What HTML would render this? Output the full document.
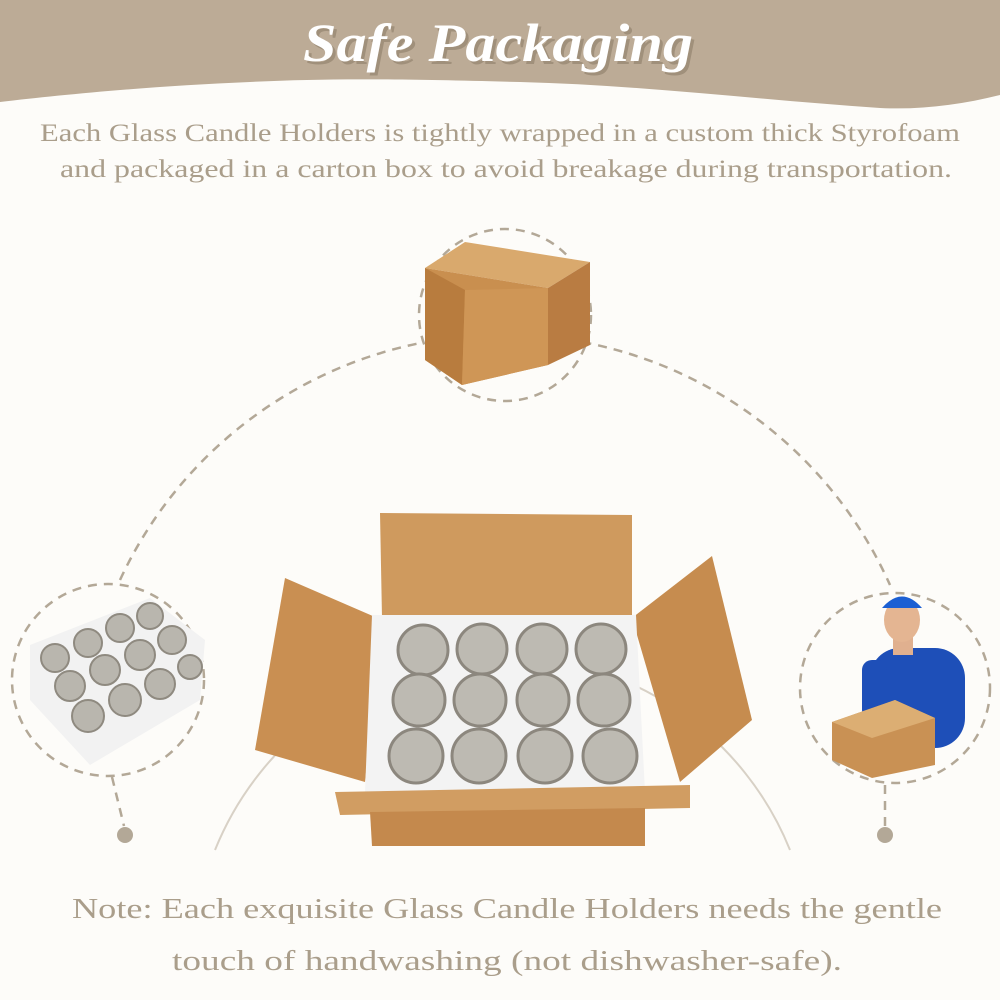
<!DOCTYPE html>
<html><head><meta charset="utf-8"><style>
html,body{margin:0;padding:0;background:#fdfcf9;}
svg{display:block}
</style></head><body>
<svg width="1000" height="1000" viewBox="0 0 1000 1000" xmlns="http://www.w3.org/2000/svg">
<rect width="1000" height="1000" fill="#fdfcf9"/>
<path d="M0 0 H1000 V95 C960 105 920 110 880 108 C760 100 640 85 520 82 C400 79 330 78 250 82 C150 86 60 95 0 102 Z" fill="#bcab96"/>
<text x="501" y="64" text-anchor="middle" font-family="Liberation Serif, serif" font-style="italic" font-weight="bold" font-size="54" fill="#8f7f6a" opacity="0.6" textLength="390" lengthAdjust="spacingAndGlyphs">Safe Packaging</text>
<text x="498" y="61" text-anchor="middle" font-family="Liberation Serif, serif" font-style="italic" font-weight="bold" font-size="54" fill="#fff" textLength="390" lengthAdjust="spacingAndGlyphs">Safe Packaging</text>
<g font-family="Liberation Serif, serif" font-size="25" fill="#aa9e8b">
<text x="40" y="141" textLength="920" lengthAdjust="spacingAndGlyphs">Each Glass Candle Holders is tightly wrapped in a custom thick Styrofoam</text>
<text x="60" y="177" textLength="892" lengthAdjust="spacingAndGlyphs">and packaged in a carton box to avoid breakage during transportation.</text>
<text x="72" y="918" font-size="28" textLength="870" lengthAdjust="spacingAndGlyphs">Note: Each exquisite Glass Candle Holders needs the gentle</text>
<text x="172" y="970" font-size="28" textLength="670" lengthAdjust="spacingAndGlyphs">touch of handwashing (not dishwasher-safe).</text>
</g>
<g fill="none" stroke="#b3a897" stroke-width="2.5" stroke-dasharray="9 7">
<path d="M120 580 A423 423 0 0 1 890 585"/>
<path d="M112 777 L124 826"/>
<path d="M885 785 L885 826"/>
</g>
<path d="M215 850 A310 310 0 0 1 790 850" fill="none" stroke="#d8d1c6" stroke-width="2"/>
<circle cx="125" cy="835" r="8" fill="#b3a897"/>
<circle cx="885" cy="835" r="8" fill="#b3a897"/>
<g stroke="#b3a897" stroke-width="2.5" stroke-dasharray="9 7">
<circle cx="505" cy="315" r="86" fill="#fdfcf9"/>
<circle cx="108" cy="680" r="96" fill="#fdfcf9"/>
<circle cx="895" cy="688" r="95" fill="#fdfcf9"/>
</g>
<polygon points="425,268 465,242 590,262 548,288" fill="#d9a96d"/>
<polygon points="425,268 548,288 548,365 462,385 425,360" fill="#c98f4f"/>
<polygon points="425,268 465,290 462,385 425,360" fill="#b87c3e"/>
<polygon points="548,288 590,262 590,345 548,365" fill="#b97c42"/>
<polygon points="465,290 548,288 548,365 462,385" fill="#cf9656"/>
<polygon points="30,645 150,598 205,640 200,700 90,765 30,700" fill="#f2f2f2"/>
<g fill="#b9b6ae" stroke="#8f8a80" stroke-width="2">
<circle cx="55" cy="658" r="14"/><circle cx="88" cy="643" r="14"/><circle cx="120" cy="628" r="14"/><circle cx="150" cy="616" r="13"/>
<circle cx="70" cy="686" r="15"/><circle cx="105" cy="670" r="15"/><circle cx="140" cy="655" r="15"/><circle cx="172" cy="640" r="14"/>
<circle cx="88" cy="716" r="16"/><circle cx="125" cy="700" r="16"/><circle cx="160" cy="684" r="15"/><circle cx="190" cy="667" r="12"/>
</g>
<rect x="870" y="648" width="95" height="100" rx="30" fill="#1e4fb8"/>
<rect x="893" y="630" width="20" height="25" fill="#e0b08f"/>
<ellipse cx="902" cy="620" rx="18" ry="22" fill="#e4b592"/>
<path d="M882 608 Q902 585 922 608 Z" fill="#1b5fd3"/>
<rect x="862" y="660" width="25" height="60" rx="10" fill="#1e4fb8"/>
<polygon points="832,722 895,700 935,718 935,765 872,778 832,760" fill="#c99154"/>
<polygon points="832,722 895,700 935,718 872,738" fill="#dcae73"/>
<polygon points="380,513 632,515 632,618 382,618" fill="#cf9a5e"/>
<polygon points="285,578 382,620 365,782 255,750" fill="#c98f52"/>
<polygon points="632,618 712,556 752,720 680,782" fill="#c68c4f"/>
<polygon points="372,615 636,615 645,792 365,792" fill="#f3f3f3"/>
<g fill="#bdbab2" stroke="#8c877e" stroke-width="3">
<circle cx="423" cy="650" r="25"/><circle cx="482" cy="649" r="25"/><circle cx="542" cy="649" r="25"/><circle cx="601" cy="649" r="25"/>
<circle cx="419" cy="700" r="26"/><circle cx="480" cy="700" r="26"/><circle cx="543" cy="700" r="26"/><circle cx="604" cy="700" r="26"/>
<circle cx="416" cy="756" r="27"/><circle cx="479" cy="756" r="27"/><circle cx="545" cy="756" r="27"/><circle cx="610" cy="756" r="27"/>
</g>
<polygon points="335,792 690,785 690,808 340,815" fill="#d19d62"/>
<polygon points="370,812 645,808 645,846 372,846" fill="#c4894d"/>
</svg>
</body></html>
